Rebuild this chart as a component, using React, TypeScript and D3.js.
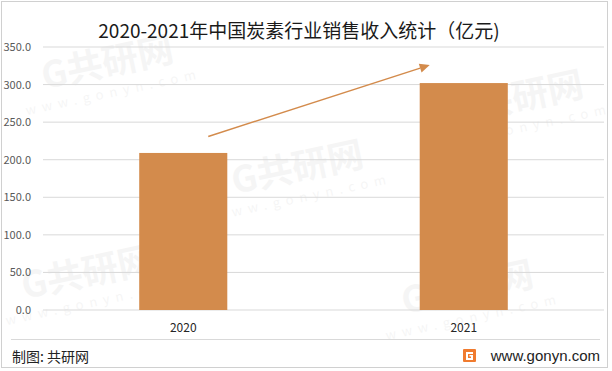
import React from 'react';
import * as d3 from 'd3';

const years = ['2020', '2021'];
const revenue = [209, 302];
const yTicks = [0, 50, 100, 150, 200, 250, 300, 350];
const titleText = '2020-2021年中国炭素行业销售收入统计（亿元)';
const sourceText = '制图: 共研网';
const siteText = 'www.gonyn.com';

const W = 612;
const H = 371;
const PLOT = { left: 43, right: 604, top: 47, bottom: 310 };
const BAR_COLOR = '#D38B4C';
const FONT = '"Microsoft YaHei", "Noto Sans CJK SC", "Noto Sans", sans-serif';

// faint watermark logos scattered over the chart
const marks = [
  { x: 110, y: 75 },
  { x: 300, y: 180 },
  { x: 520, y: 110 },
  { x: 90, y: 285 },
  { x: 470, y: 300 },
];

export default function App() {
  const x = d3
    .scaleBand<string>()
    .domain(years)
    .range([PLOT.left, PLOT.right])
    .paddingInner(0.686)
    .paddingOuter(0.343);
  const y = d3.scaleLinear().domain([0, 350]).range([PLOT.bottom, PLOT.top]);

  // trend arrow, placed in data terms
  const x0 = x(years[0])! + x.bandwidth() / 2 + 25;
  const y0 = y(231);
  const x1 = x(years[1])! + 10;
  const y1 = y(326);
  const ang = Math.atan2(y1 - y0, x1 - x0);
  const head = 10;
  const hw = 4.5;
  const bx = x1 - head * Math.cos(ang);
  const by = y1 - head * Math.sin(ang);
  const headPts = [
    [x1, y1],
    [bx + hw * Math.sin(ang), by - hw * Math.cos(ang)],
    [bx - hw * Math.sin(ang), by + hw * Math.cos(ang)],
  ]
    .map((p) => p.join(','))
    .join(' ');

  return (
    <svg
      width={W}
      height={H}
      style={{ position: 'absolute', left: 0, top: 0, background: '#fff' }}
      fontFamily={FONT}
    >
      <rect x={0} y={0} width={W} height={H} fill="#fff" />

      {/* watermarks */}
      {marks.map((m, i) => (
        <g key={i} transform={`translate(${m.x},${m.y}) rotate(-12)`} opacity={0.035}>
          <text textAnchor="middle" fontSize={36} fontWeight="bold" fill="#000">
            G共研网
          </text>
          <text y={22} textAnchor="middle" fontSize={13} letterSpacing={6} fill="#000">
            www.gonyn.com
          </text>
        </g>
      ))}

      {/* outer frame */}
      <rect x={1.5} y={1.5} width={606} height={366} fill="none" stroke="#D0D0D0" strokeWidth={1} />

      <text x={W / 2 - 7} y={38} textAnchor="middle" fontSize={19} fill="#1a1a1a">
        {titleText}
      </text>

      {/* grid + y labels */}
      {yTicks.map((t) => (
        <g key={t}>
          <line x1={PLOT.left} x2={PLOT.right} y1={y(t)} y2={y(t)} stroke="#D9D9D9" strokeWidth={1} />
          <text x={31} y={y(t) + 4} textAnchor="end" fontSize={11} fill="#595959">
            {t.toFixed(1)}
          </text>
        </g>
      ))}

      {/* bars */}
      {years.map((yr, i) => (
        <rect
          key={yr}
          x={x(yr)}
          y={y(revenue[i])}
          width={x.bandwidth()}
          height={y(0) - y(revenue[i])}
          fill={BAR_COLOR}
        />
      ))}

      {/* x labels */}
      {years.map((yr) => (
        <text
          key={yr}
          x={x(yr)! + x.bandwidth() / 2}
          y={332}
          textAnchor="middle"
          fontSize={12}
          fill="#262626"
        >
          {yr}
        </text>
      ))}

      {/* trend arrow */}
      <line x1={x0} y1={y0} x2={bx} y2={by} stroke={BAR_COLOR} strokeWidth={1.5} />
      <polygon points={headPts} fill={BAR_COLOR} />

      {/* footer */}
      <line x1={11} x2={600} y1={339.5} y2={339.5} stroke="#D9D9D9" strokeWidth={1} />
      <text x={12} y={362} fontSize={14} fill="#222">
        {sourceText}
      </text>
      <g transform="translate(463,349)">
        <rect x={0} y={0} width={13} height={13} rx={1} fill="#F07B2F" />
        <path d="M3,3 H10 V5 H5 V9 H8 V7.5 H6.5 V6 H10 V11 H3 Z" fill="#fff" />
      </g>
      <text x={600} y={361} textAnchor="end" fontSize={15} fill="#222" fontFamily="Arial, 'Liberation Sans', sans-serif">
        {siteText}
      </text>
    </svg>
  );
}
